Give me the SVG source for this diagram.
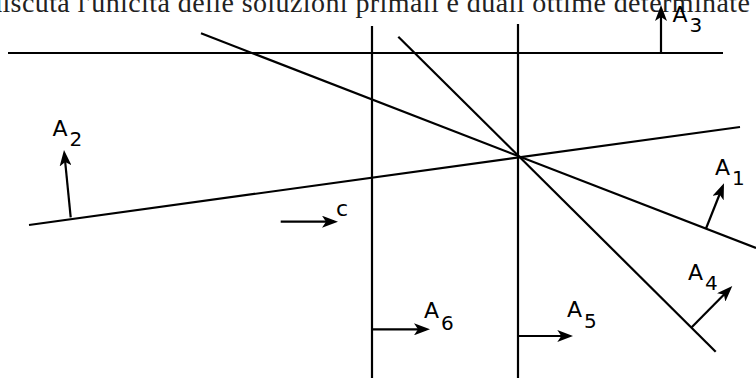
<svg xmlns="http://www.w3.org/2000/svg" width="756" height="378" viewBox="0 0 756 378">
  <style>
    .ln { stroke: #000; stroke-width: 2.2; fill: none; }
    .ar { stroke: #000; stroke-width: 2.2; fill: none; marker-end: url(#head); }
    .lbl { font-family: "DejaVu Sans", "Liberation Sans", sans-serif; font-size: 22px; fill: #000; }
    .sub { font-size: 20px; }
    .cap { font-family: "Liberation Serif", "DejaVu Serif", serif; font-size: 28px; fill: #222; }
  </style>
  <defs>
    <marker id="head" viewBox="0 0 16 12" refX="12" refY="6" markerWidth="16" markerHeight="12" markerUnits="userSpaceOnUse" orient="auto">
      <path d="M0,0 L16,6 L0,12 L4,6 Z" fill="#000"/>
    </marker>
  </defs>
  <rect width="756" height="378" fill="#fff"/>
  <text class="cap" x="-12" y="12" textLength="762" lengthAdjust="spacing">discuta l'unicità delle soluzioni primali e duali ottime determinate</text>

  <g id="connectors">
    <line id="line-A3" class="ln" x1="8" y1="53" x2="723" y2="53"/>
    <line id="line-A6" class="ln" x1="372" y1="26" x2="372" y2="378"/>
    <line id="line-A5" class="ln" x1="518" y1="24" x2="518" y2="378"/>
    <line id="line-A2" class="ln" x1="29" y1="225" x2="740" y2="127"/>
    <line id="line-A1" class="ln" x1="201" y1="33.3" x2="756" y2="248"/>
    <line id="line-A4" class="ln" x1="398.3" y1="36.7" x2="715.7" y2="351.7"/>

    <line class="ar" x1="661" y1="53" x2="661" y2="9"/>
    <line class="ar" x1="70.7" y1="217.3" x2="64.4" y2="154"/>
    <line class="ar" x1="706" y1="228.5" x2="722.5" y2="187"/>
    <line class="ar" x1="691.7" y1="327.3" x2="729.5" y2="288.9"/>
    <line class="ar" x1="372" y1="329.3" x2="426" y2="329.3"/>
    <line class="ar" x1="518" y1="336" x2="569.3" y2="336"/>
    <line class="ar" x1="280.7" y1="221.7" x2="334" y2="221.7"/>
  </g>

  <g id="A1"><text class="lbl" x="715" y="175">A<tspan class="sub" dx="2" dy="10">1</tspan></text></g>
  <g id="A2"><text class="lbl" x="52.5" y="136">A<tspan class="sub" dx="2" dy="10">2</tspan></text></g>
  <g id="A3"><text class="lbl" x="672.5" y="22">A<tspan class="sub" dx="2" dy="10">3</tspan></text></g>
  <g id="A4"><text class="lbl" x="688" y="280">A<tspan class="sub" dx="2" dy="10">4</tspan></text></g>
  <g id="A5"><text class="lbl" x="567" y="317">A<tspan class="sub" dx="2" dy="11">5</tspan></text></g>
  <g id="A6"><text class="lbl" x="424" y="318">A<tspan class="sub" dx="2" dy="12">6</tspan></text></g>
  <g id="c"><text class="lbl" x="336" y="216">c</text></g>
</svg>
